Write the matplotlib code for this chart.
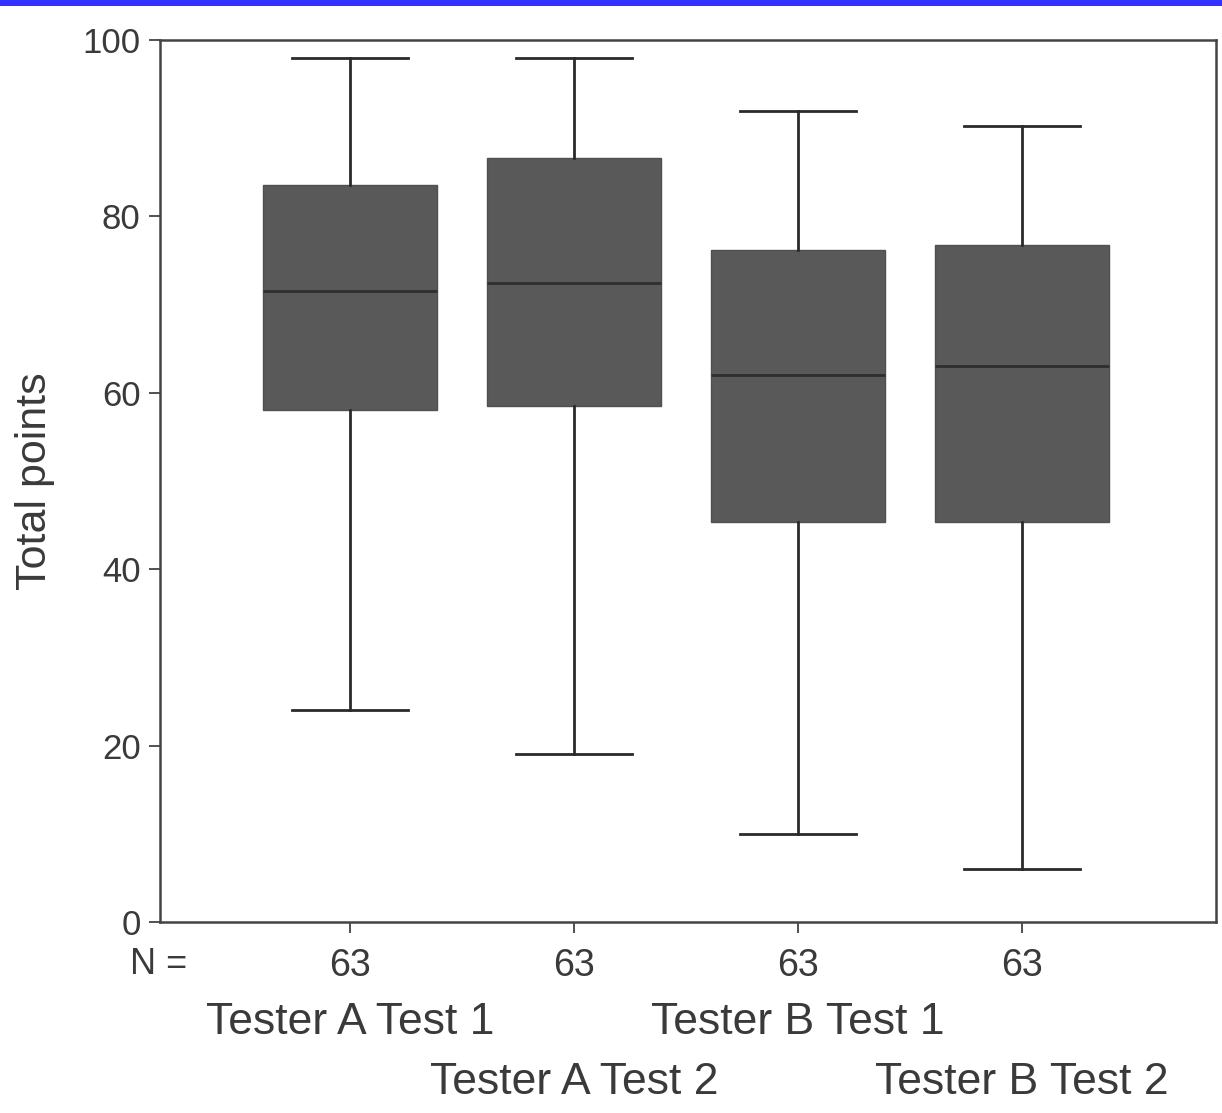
import matplotlib
matplotlib.use('Agg')
from matplotlib import pyplot as plt
from matplotlib import transforms
from matplotlib.patches import Rectangle

# box stats
groups = ['Tester A Test 1', 'Tester A Test 2', 'Tester B Test 1', 'Tester B Test 2']
n_vals = [63, 63, 63, 63]
whislo = [24, 19, 10, 6]
q1 = [58, 58.5, 45.3, 45.3]
med = [71.5, 72.5, 62, 63]
q3 = [83.5, 86.6, 76.2, 76.7]
whishi = [98, 98, 92, 90.3]
yticks = [0, 20, 40, 60, 80, 100]

txt = '#3a3a3a'
plt.rcParams['font.family'] = ['Liberation Sans', 'DejaVu Sans']

fig = plt.figure(figsize=(12.22, 11.13), dpi=100)
ax = fig.add_axes([0.1309, 0.1716, 0.8642, 0.7925])

stats = []
for i in range(len(groups)):
    stats.append({'label': groups[i], 'whislo': whislo[i], 'q1': q1[i], 'med': med[i],
                  'q3': q3[i], 'whishi': whishi[i]})

pos = list(range(1, len(groups) + 1))
ax.bxp(stats, positions=pos, widths=0.777, capwidths=0.52, showfliers=False,
       patch_artist=True,
       boxprops=dict(facecolor='#595959', edgecolor='#505050', linewidth=1),
       medianprops=dict(color='#2e2e2e', linewidth=2),
       whiskerprops=dict(color='#2a2a2a', linewidth=2),
       capprops=dict(color='#2a2a2a', linewidth=2))

ax.set_xlim(0.152, 4.866)
ax.set_ylim(0, 100)
ax.set_yticks(yticks)
ax.set_yticklabels([str(v) for v in yticks])
ax.set_xticks(pos)
ax.set_xticklabels([str(v) for v in n_vals])
ax.tick_params(axis='both', direction='out', length=8, width=1.2, color='#333333',
               labelsize=25, labelcolor=txt)
ax.tick_params(axis='y', pad=6)
ax.tick_params(axis='x', labelsize=27, pad=11)
for s in ax.spines.values():
    s.set_color('#444444')
    s.set_linewidth(1.8)

ax.set_ylabel('Total points', fontsize=31, color=txt, labelpad=20)

# N = label and staggered group names below the axis
fig.text(130 / 1222, 1 - 964 / 1113, 'N =', fontsize=26, color=txt, va='center', ha='left')
tr = transforms.blended_transform_factory(ax.transData, fig.transFigure)
rows = [1 - 1022 / 1113, 1 - 1082 / 1113]
for i, g in enumerate(groups):
    ax.text(pos[i], rows[i % 2], g, transform=tr, fontsize=32, color=txt,
            ha='center', va='center')

# blue strip along the top edge
fig.patches.append(Rectangle((0, 1 - 6 / 1113), 1, 6 / 1113, transform=fig.transFigure,
                             facecolor='#3333ff', edgecolor='none'))

fig.savefig('out.png', dpi=100)
plt.close(fig)
